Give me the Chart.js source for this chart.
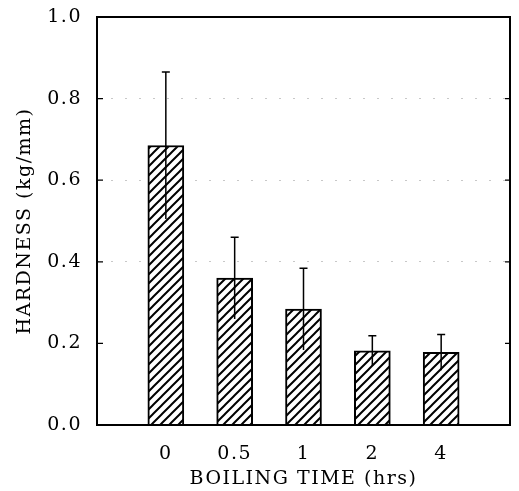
<!DOCTYPE html>
<html>
<head>
<meta charset="utf-8">
<script src="https://cdn.jsdelivr.net/npm/chart.js@4"></script>
<style>
  body { margin: 0; background: #fff; overflow: hidden; }
  #wrap { width: 519px; height: 491px; position: relative; }
</style>
</head>
<body>
<div id="wrap"><canvas id="chart"></canvas></div>
<script>
// Data
const categories = ['0', '0.5', '1', '2', '4'];
const hardness = [0.685, 0.36, 0.284, 0.182, 0.178];
const errors = [0.18, 0.10, 0.10, 0.037, 0.044];
const yTicks = [0.0, 0.2, 0.4, 0.6, 0.8, 1.0];

const serif = 'DejaVu Serif';

// empty slots on each side so the bars sit where the original has them
const labels = [''].concat(categories, ['']);
const values = [null].concat(hardness, [null]);
const errs = [null].concat(errors, [null]);

// diagonal hatch fill
function makeHatch() {
    const size = 9;
    const c = document.createElement('canvas');
    c.width = size;
    c.height = size;
    const g = c.getContext('2d');
    g.fillStyle = '#fff';
    g.fillRect(0, 0, size, size);
    g.strokeStyle = '#000';
    g.lineWidth = 2;
    g.beginPath();
    g.moveTo(-1, size + 1); g.lineTo(size + 1, -1);
    g.moveTo(-1, 1); g.lineTo(1, -1);
    g.moveTo(size - 1, size + 1); g.lineTo(size + 1, size - 1);
    g.stroke();
    return g.createPattern(c, 'repeat');
}

// wider letter spacing like the typeset original
const spacing = {
    id: 'spacing',
    beforeLayout(chart) { chart.ctx.letterSpacing = '1.5px'; },
    beforeDraw(chart) { chart.ctx.letterSpacing = '1.5px'; }
};

// error bars on top of each bar
const errorBars = {
    id: 'errorBars',
    afterDatasetsDraw(chart) {
        const ctx = chart.ctx;
        const y = chart.scales.y;
        const meta = chart.getDatasetMeta(0);
        ctx.save();
        ctx.strokeStyle = '#000';
        ctx.lineWidth = 1.5;
        meta.data.forEach((bar, i) => {
            if (values[i] == null) return;
            const top = y.getPixelForValue(values[i] + errs[i]);
            const bot = y.getPixelForValue(values[i] - errs[i]);
            ctx.beginPath();
            ctx.moveTo(bar.x, top); ctx.lineTo(bar.x, bot);
            ctx.moveTo(bar.x - 4, top); ctx.lineTo(bar.x + 4, top);
            ctx.stroke();
        });
        ctx.restore();
    }
};

// frame and inward tick marks
const frame = {
    id: 'frame',
    afterDraw(chart) {
        const ctx = chart.ctx;
        const a = chart.chartArea;
        const y = chart.scales.y;
        ctx.save();
        ctx.strokeStyle = '#000';
        ctx.lineWidth = 2;
        ctx.strokeRect(a.left, a.top, a.right - a.left, a.bottom - a.top);
        ctx.lineWidth = 1.2;
        yTicks.forEach((v) => {
            const py = y.getPixelForValue(v);
            ctx.beginPath();
            ctx.moveTo(a.left, py); ctx.lineTo(a.left + 6, py);
            ctx.moveTo(a.right, py); ctx.lineTo(a.right - 5, py);
            ctx.stroke();
        });
        ctx.restore();
    }
};

const ctx = document.getElementById('chart').getContext('2d');
new Chart(ctx, {
    type: 'bar',
    data: {
        labels: labels,
        datasets: [{
            data: values,
            backgroundColor: makeHatch(),
            borderColor: '#000',
            borderWidth: 2,
            barThickness: 36
        }]
    },
    options: {
        responsive: true,
        maintainAspectRatio: false,
        devicePixelRatio: 1,
        animation: false,
        layout: { autoPadding: false, padding: { top: 17, right: 9, left: 0, bottom: 0 } },
        plugins: { legend: { display: false }, tooltip: { enabled: false } },
        scales: {
            x: {
                offset: false,
                grid: { display: false, drawTicks: false },
                border: { display: false },
                ticks: { color: '#000', padding: 18, font: { family: serif, size: 19 } },
                title: {
                    display: true,
                    text: 'BOILING TIME (hrs)',
                    color: '#000',
                    padding: { top: 0, bottom: 1 },
                    font: { family: serif, size: 19 }
                },
                afterFit: (s) => {
                    s.height = 66;
                    s.paddingLeft = 0;
                    s.paddingRight = 0;
                }
            },
            y: {
                min: 0,
                max: 1,
                grid: {
                    drawTicks: false,
                    lineWidth: 1,
                    color: (c) => (c.tick && c.tick.value >= 0.39 && c.tick.value <= 0.81) ? '#c8c8c8' : 'rgba(0,0,0,0)'
                },
                border: { display: false, dash: [2, 12] },
                ticks: {
                    stepSize: 0.2,
                    color: '#000',
                    padding: 15,
                    font: { family: serif, size: 19 },
                    callback: (v) => Number(v).toFixed(1)
                },
                title: {
                    display: true,
                    text: 'HARDNESS (kg/mm)',
                    color: '#000',
                    padding: { top: 14, bottom: 0 },
                    font: { family: serif, size: 19 }
                },
                afterFit: (s) => {
                    s.width = 97;
                    s.paddingTop = 0;
                    s.paddingBottom = 0;
                }
            }
        }
    },
    plugins: [spacing, errorBars, frame]
});
</script>
</body>
</html>
